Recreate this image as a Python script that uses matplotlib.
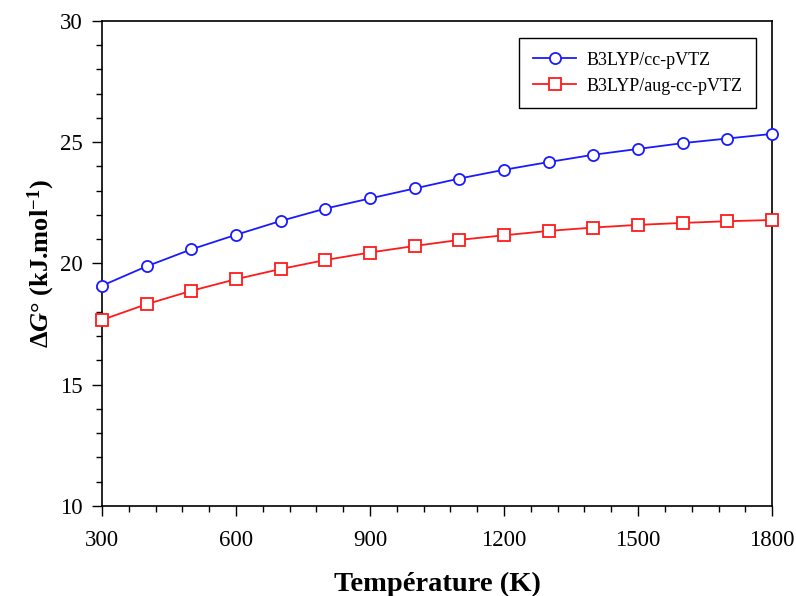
import numpy as np
import matplotlib
matplotlib.use('Agg')
import matplotlib.pyplot as plt
from matplotlib.ticker import MultipleLocator

plt.rcParams['font.family'] = 'Liberation Serif'
plt.rcParams['mathtext.fontset'] = 'custom'
plt.rcParams['mathtext.rm'] = 'Liberation Serif:bold'
plt.rcParams['mathtext.it'] = 'Liberation Serif:bold:italic'
plt.rcParams['mathtext.bf'] = 'Liberation Serif:bold'

# Données
temperature = [300, 400, 500, 600, 700, 800, 900, 1000, 1100, 1200,
               1300, 1400, 1500, 1600, 1700, 1800]
dg_cc_pvtz = [19.08, 19.88, 20.58, 21.18, 21.75, 22.26, 22.68, 23.09, 23.50,
              23.86, 24.18, 24.48, 24.72, 24.96, 25.15, 25.34]
dg_aug_cc_pvtz = [17.67, 18.32, 18.87, 19.35, 19.77, 20.14, 20.45, 20.72, 20.97,
                  21.16, 21.34, 21.48, 21.59, 21.67, 21.74, 21.79]

fig = plt.figure(figsize=(7.96, 5.96), dpi=100)
ax = fig.add_axes([0.128, 0.151, 0.842, 0.814])

ax.plot(temperature, dg_cc_pvtz, color='#1a1aff', lw=1.3, marker='o', ms=8,
        mfc='white', mec='#1a1aff', mew=1.3, label='B3LYP/cc-pVTZ', clip_on=False, zorder=3)
ax.plot(temperature, dg_aug_cc_pvtz, color='#ff1a1a', lw=1.3, marker='s', ms=8,
        mfc='white', mec='#ff1a1a', mew=1.3, label='B3LYP/aug-cc-pVTZ', clip_on=False, zorder=3)

ax.set_xlim(300, 1800)
ax.set_ylim(10, 30)
ax.xaxis.set_major_locator(MultipleLocator(300))
ax.xaxis.set_minor_locator(MultipleLocator(60))
ax.yaxis.set_major_locator(MultipleLocator(5))
ax.yaxis.set_minor_locator(MultipleLocator(1))
ax.tick_params(which='major', direction='out', length=7, width=1, labelsize=16.5, pad=7)
ax.tick_params(which='minor', direction='out', length=4, width=1)
ax.tick_params(axis='x', pad=10)
for s in ax.spines.values():
    s.set_linewidth(1.2)

ax.set_xlabel('Température (K)', fontsize=20.5, fontweight='bold', labelpad=15)
ax.set_ylabel(r'$\Delta G°$ (kJ.mol$^{-1}$)', fontsize=19, fontweight='bold', labelpad=2)

leg = ax.legend(loc='upper right', bbox_to_anchor=(0.981, 0.972), fontsize=13,
                fancybox=False, edgecolor='black', framealpha=1, borderpad=0.75,
                handlelength=2.4, handletextpad=0.55, labelspacing=0.5, borderaxespad=0.2)
leg.get_frame().set_linewidth(1.0)

fig.savefig('out.png', dpi=100)
